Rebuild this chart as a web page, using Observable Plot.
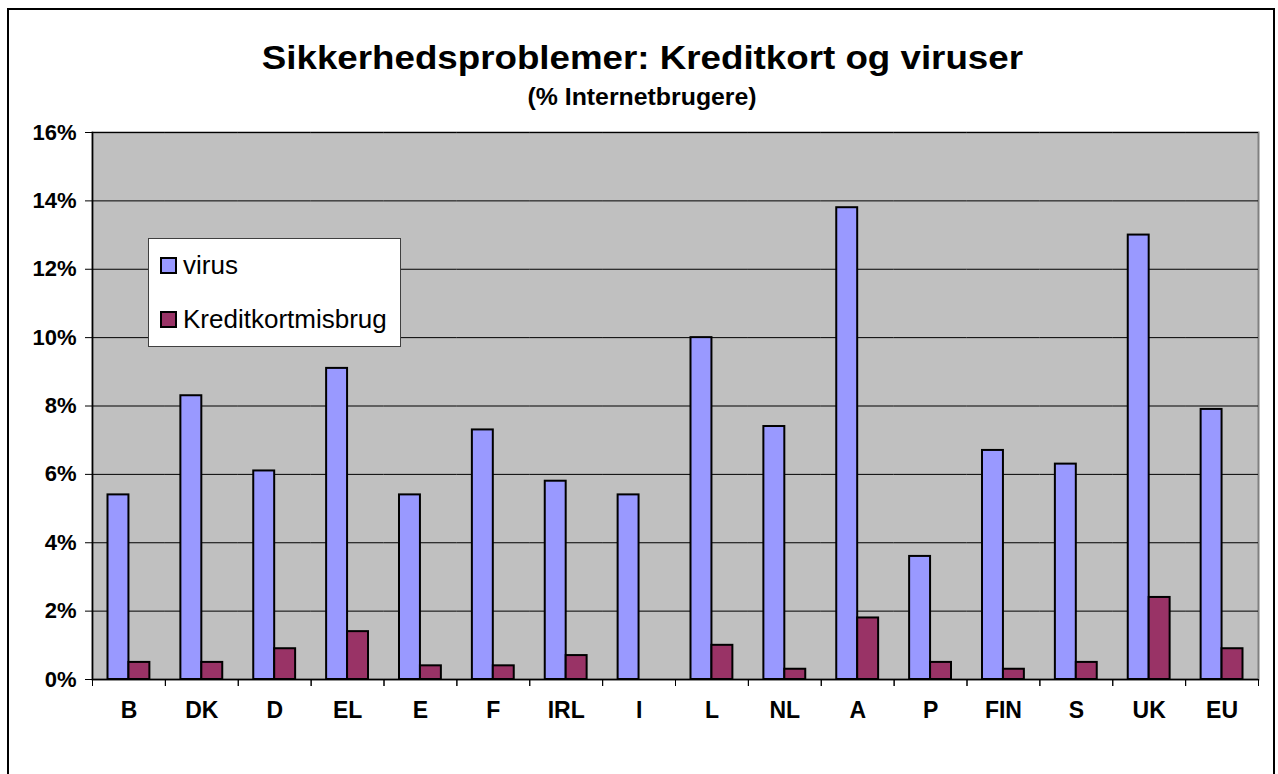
<!DOCTYPE html>
<html>
<head>
<meta charset="utf-8">
<script src="https://cdn.jsdelivr.net/npm/d3@7"></script>
<script src="https://cdn.jsdelivr.net/npm/@observablehq/plot@0.6"></script>
<style>
  html, body { margin: 0; padding: 0; background: #fff; }
  body { width: 1278px; height: 774px; position: relative; overflow: hidden; font-family: "Liberation Sans", Arial, sans-serif; }
  #border { position: absolute; left: 7px; top: 8px; width: 1268px; height: 820px; border: 2px solid #000; box-sizing: border-box; }
  .title { position: absolute; left: 0; width: 1284px; text-align: center; font-weight: bold; color: #000; white-space: nowrap; }
  .title span { display: inline-block; }
  #chart { position: absolute; left: 0; top: 0; }
  #legend { position: absolute; left: 148px; top: 238px; width: 253px; height: 109px; background: #fff; border: 1px solid #404040; box-sizing: border-box; }
  .item { position: absolute; left: 11px; height: 28px; display: flex; align-items: center; font-size: 26px; color: #000; white-space: nowrap; }
  .sw { width: 17px; height: 17px; border: 2px solid #000; box-sizing: border-box; margin-right: 6px; }
</style>
</head>
<body>
<div id="border"></div>
<div class="title" style="top:40px;font-size:34px;line-height:34px;"><span id="t1"></span></div>
<div class="title" style="top:86px;font-size:23px;line-height:23px;"><span id="t2"></span></div>
<div id="chart"></div>
<div id="legend"></div>
<script>
const titleText = "Sikkerhedsproblemer: Kreditkort og viruser";
const subtitleText = "(% Internetbrugere)";
const countries = ["B","DK","D","EL","E","F","IRL","I","L","NL","A","P","FIN","S","UK","EU"];
const virus  = [5.4, 8.3, 6.1, 9.1, 5.4, 7.3, 5.8, 5.4, 10.0, 7.4, 13.8, 3.6, 6.7, 6.3, 13.0, 7.9];
const kredit = [0.5, 0.5, 0.9, 1.4, 0.4, 0.4, 0.7, 0.0, 1.0, 0.3, 1.8, 0.5, 0.3, 0.5, 2.4, 0.9];
const seriesNames = ["virus", "Kreditkortmisbrug"];
const seriesColors = ["#9999ff", "#993366"];
const yTicks = [0, 2, 4, 6, 8, 10, 12, 14, 16];

document.getElementById("t1").textContent = titleText;
document.getElementById("t2").textContent = subtitleText;
document.getElementById("t1").style.transform = "scaleX(1.08)";
document.getElementById("t2").style.transform = "scaleX(1.08)";

const data = countries.flatMap((c, i) => [
  {country: c, series: seriesNames[0], value: virus[i]},
  {country: c, series: seriesNames[1], value: kredit[i]}
]);

const W = 1278, H = 774, mT = 132, mB = 95, mL = 92, mR = 20;
const innerH = H - mT - mB;

const plot = Plot.plot({
  width: W, height: H,
  marginLeft: mL, marginRight: mR, marginTop: mT, marginBottom: mB,
  style: {fontFamily: "'Liberation Sans', Arial, sans-serif", fontWeight: "bold", fontSize: "20px", background: "transparent", color: "#000", overflow: "visible"},
  fx: {domain: countries, padding: 0, round: false, label: null},
  x: {domain: seriesNames, paddingInner: 0, paddingOuter: 0.74, round: false, axis: null},
  y: {domain: [0, 16]},
  color: {domain: seriesNames, range: seriesColors},
  marks: [
    Plot.frame({facet: "super", fill: "#c0c0c0", stroke: "#808080", strokeWidth: 2}),
    Plot.gridY(yTicks, {stroke: "#000", strokeOpacity: 1, strokeWidth: 1}),
    Plot.barY(data, {fx: "country", x: "series", y: "value", fill: "series", stroke: "#000", strokeWidth: 2}),
    Plot.ruleY([0], {stroke: "#000", strokeWidth: 1.5}),
    Plot.frame({facet: "super", anchor: "left", stroke: "#000", strokeWidth: 1.5}),
    Plot.frame({anchor: "left", stroke: "#000", strokeWidth: 1, insetTop: innerH, insetBottom: -6}),
    Plot.frame({anchor: "right", stroke: "#000", strokeWidth: 1, insetTop: innerH, insetBottom: -6}),
    Plot.axisY(yTicks, {tickSize: 7, tickPadding: 9, tickFormat: d => d + "%", fontSize: 22, fontWeight: "bold", label: null}),
    Plot.axisFx({anchor: "bottom", tickSize: 0, tickPadding: 22, fontSize: 23, fontWeight: "bold", label: null})
  ]
});
document.getElementById("chart").append(plot);

const legend = document.getElementById("legend");
seriesNames.forEach((name, i) => {
  const item = document.createElement("div");
  item.className = "item";
  item.style.top = (i === 0 ? 12 : 66) + "px";
  const sw = document.createElement("div");
  sw.className = "sw";
  sw.style.background = seriesColors[i];
  const label = document.createElement("span");
  label.textContent = name;
  item.append(sw, label);
  legend.append(item);
});
</script>
</body>
</html>
